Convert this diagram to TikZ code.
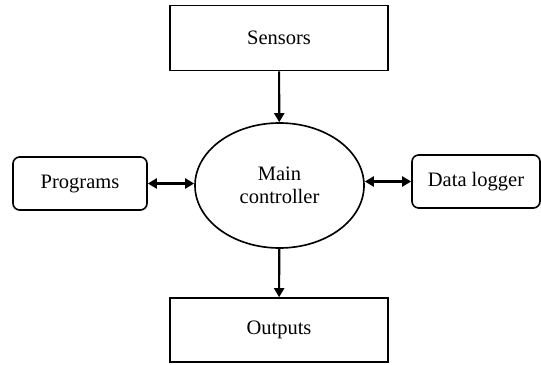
\documentclass[tikz,border=0pt]{standalone}
\usepackage{fontspec}
\setmainfont{Liberation Serif}
\usepackage{tikz}
\usetikzlibrary{shapes}
\usetikzlibrary{positioning, arrows.meta}

\tikzset{
  sqbox/.style={draw=black, line width=1.4pt, minimum width=6.54cm, minimum height=1.95cm},
  rndbox/.style={draw=black, line width=1.4pt, rounded corners=0.2cm, minimum height=1.59cm},
  link/.style={black, line width=1.8pt, -{Triangle[length=2.7mm, width=3mm]}},
  biglink/.style={black, line width=1.8pt, {Triangle[length=2.7mm, width=3mm]}-{Triangle[length=2.7mm, width=3mm]}}
}

\begin{document}
\begin{tikzpicture}[font=\fontsize{17.5}{19.5}\selectfont]
          \useasboundingbox (0, 0) rectangle (16.23, -10.95);
          \node[sqbox] at (8.37, -1.14) (sens) {Sensors};
          \node[sqbox, minimum height=1.92cm] at (8.37, -9.9) (outp) {Outputs};
          \node[ellipse, draw=black, line width=1.4pt, minimum width=5.07cm, minimum height=3.75cm, align=center] at (8.385, -5.565) (ctrl) {Main \\ controller};
          \node[rndbox, minimum width=4.02cm] at (2.4, -5.505) (prog) {Programs};
          \node[rndbox, minimum width=3.84cm] at (14.28, -5.445) (logr) {Data logger};
          \draw[link] (sens) -- (ctrl);
          \draw[link] (ctrl) -- (outp);
          \draw[biglink] (prog.east) -- (prog.east -| ctrl.west);
          \draw[biglink] (logr.west -| ctrl.east) -- (logr.west);
        \end{tikzpicture}
\end{document}
